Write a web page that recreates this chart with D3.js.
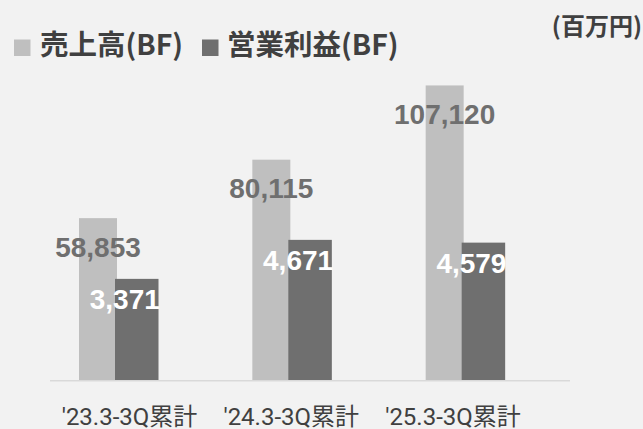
<!DOCTYPE html>
<html><head><meta charset="utf-8">
<script src="https://cdn.jsdelivr.net/npm/d3@7"></script>
<style>
html,body{margin:0;padding:0;background:#f2f2f2;}
svg{display:block;}
</style></head>
<body><svg id="chart" width="643" height="429"></svg>
<script>
const categories = ["'23.3-3Q累計", "'24.3-3Q累計", "'25.3-3Q累計"];
const sales = [58853, 80115, 107120];
const profit = [3371, 4671, 4579];
const seriesNames = ["売上高(BF)", "営業利益(BF)"];
const unitLabel = "(百万円)";

const colors = {sales: "#bfbfbf", profit: "#6f6f6f"};
const svg = d3.select("#chart");
svg.append("rect").attr("width", 643).attr("height", 429).attr("fill", "#f2f2f2");

const baseY = 380;
const x = d3.scaleBand().domain(categories).range([50, 570]).padding(0);
const xLabel = d3.scalePoint().domain(categories).range([129.5, 453]);
const ySales = d3.scaleLinear().domain([0, 120000]).range([baseY, 50]);
const yProfit = d3.scaleLinear().domain([0, 11000]).range([baseY, 50]);
const fmt = d3.format(",");

const salesW = 38, profitW = 43.5;
const salesOff = 29, profitOff = 65;

const g = svg.append("g");
g.selectAll("rect.sales").data(categories).join("rect")
  .attr("class", "sales")
  .attr("x", d => x(d) + salesOff)
  .attr("width", salesW)
  .attr("y", (d, i) => ySales(sales[i]))
  .attr("height", (d, i) => baseY - ySales(sales[i]))
  .attr("fill", colors.sales);

g.selectAll("rect.profit").data(categories).join("rect")
  .attr("class", "profit")
  .attr("x", d => x(d) + profitOff)
  .attr("width", profitW)
  .attr("y", (d, i) => yProfit(profit[i]))
  .attr("height", (d, i) => baseY - yProfit(profit[i]))
  .attr("fill", colors.profit);

// axis line
svg.append("line").attr("x1", 50).attr("x2", 570)
  .attr("y1", baseY + 0.75).attr("y2", baseY + 0.75)
  .attr("stroke", "#d9d9d9").attr("stroke-width", 1.5);

// value labels
const numFont = "'Liberation Sans', Arial, sans-serif";
g.selectAll("text.sv").data(categories).join("text")
  .attr("class", "sv")
  .attr("x", d => x(d) + salesOff + salesW / 2)
  .attr("y", (d, i) => ySales(sales[i]) + 38.5)
  .attr("text-anchor", "middle")
  .attr("font-family", numFont).attr("font-weight", "bold").attr("font-size", 28)
  .attr("fill", "#6f6f6f")
  .text((d, i) => fmt(sales[i]));

g.selectAll("text.pv").data(categories).join("text")
  .attr("class", "pv")
  .attr("x", d => x(d) + profitOff + profitW / 2 - 12)
  .attr("y", (d, i) => yProfit(profit[i]) + 30)
  .attr("text-anchor", "middle")
  .attr("font-family", numFont).attr("font-weight", "bold").attr("font-size", 28)
  .attr("fill", "#ffffff")
  .text((d, i) => fmt(profit[i]));

// category labels
const cjk = "'Noto Sans CJK JP', 'Noto Sans', sans-serif";
svg.selectAll("text.cat").data(categories).join("text")
  .attr("class", "cat")
  .attr("x", d => xLabel(d))
  .attr("y", 425)
  .attr("text-anchor", "middle")
  .attr("font-family", "Roboto, 'Noto Sans CJK JP', sans-serif").attr("font-size", 24)
  .attr("fill", "#404040")
  .text(d => d);

// legend
const legend = [
  {name: seriesNames[0], color: colors.sales, sx: 14, tx: 40},
  {name: seriesNames[1], color: colors.profit, sx: 202, tx: 227}
];
const lg = svg.append("g");
lg.selectAll("rect").data(legend).join("rect")
  .attr("x", d => d.sx).attr("y", 39.5).attr("width", 16.5).attr("height", 16.5)
  .attr("fill", d => d.color);
lg.selectAll("text").data(legend).join("text")
  .attr("x", d => d.tx).attr("y", 55)
  .attr("font-family", cjk).attr("font-weight", "bold").attr("font-size", 28.5)
  .attr("fill", "#404040")
  .text(d => d.name);

svg.append("text").attr("x", 642).attr("y", 35)
  .attr("text-anchor", "end")
  .attr("font-family", cjk).attr("font-weight", "bold").attr("font-size", 24)
  .attr("fill", "#404040")
  .text(unitLabel);
</script>
</body></html>
